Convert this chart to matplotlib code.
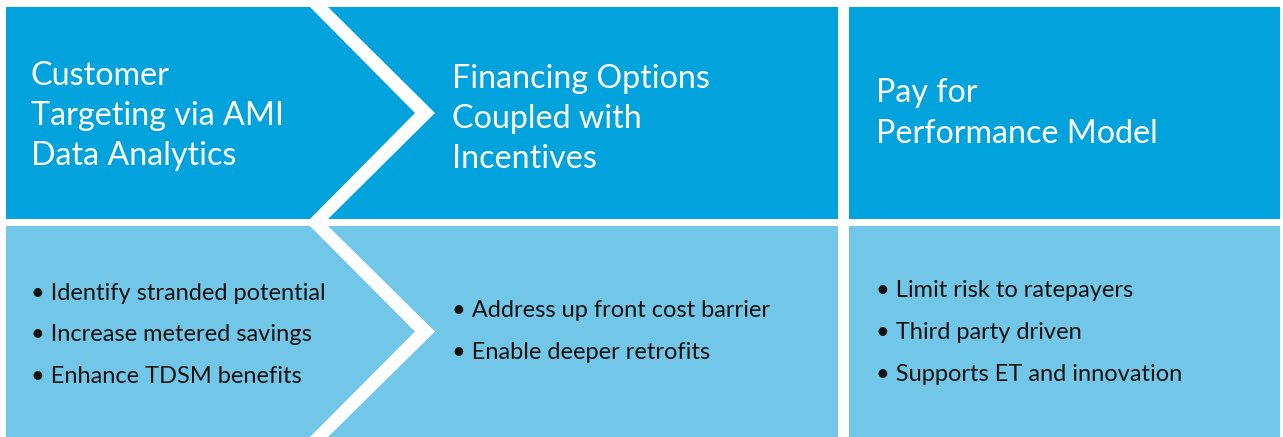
import matplotlib.pyplot as plt
from matplotlib.patches import Polygon

# panel content
titles = ['Customer\nTargeting via AMI\nData Analytics',
          'Financing Options\nCoupled with\nIncentives',
          'Pay for\nPerformance Model']
bullets = [['Identify stranded potential', 'Increase metered savings', 'Enhance TDSM benefits'],
           ['Address up front cost barrier', 'Enable deeper retrofits'],
           ['Limit risk to ratepayers', 'Third party driven', 'Supports ET and innovation']]

dark = '#02A3DC'
light = '#72C7E8'
W, H = 1283, 437

fig = plt.figure(figsize=(W / 100, H / 100), dpi=100)
ax = fig.add_axes([0, 0, 1, 1])
ax.set_xlim(0, W)
ax.set_ylim(H, 0)
ax.axis('off')

rows = [(7, 219, dark), (226, 437, light)]
for y0, y1, col in rows:
    ym = (y0 + y1) / 2
    # left chevron
    ax.add_patch(Polygon([(6, y0), (310, y0), (415, ym), (310, y1), (6, y1)], closed=True, fc=col, ec='none'))
    # middle notched panel
    ax.add_patch(Polygon([(328, y0), (838, y0), (838, y1), (328, y1), (435, ym)], closed=True, fc=col, ec='none'))
    # right panel
    ax.add_patch(Polygon([(849, y0), (1280, y0), (1280, y1), (849, y1)], closed=True, fc=col, ec='none'))

title_x = [31, 452, 876]
title_y = [116, 119, 113.5]
bullet_y = [[293.5, 334.5, 376.5], [310.5, 352.5], [290.5, 332.5, 374.5]]

for i, t in enumerate(titles):
    ax.text(title_x[i], title_y[i], t, color='white', fontsize=23.2, family='Lato',
            va='center', ha='left', linespacing=1.42)
    for j, b in enumerate(bullets[i]):
        ax.text(title_x[i], bullet_y[i][j], '\u2022 ' + b, color='#111111', fontsize=17,
                family='Lato', va='center', ha='left')

fig.savefig('out.png', dpi=100)
